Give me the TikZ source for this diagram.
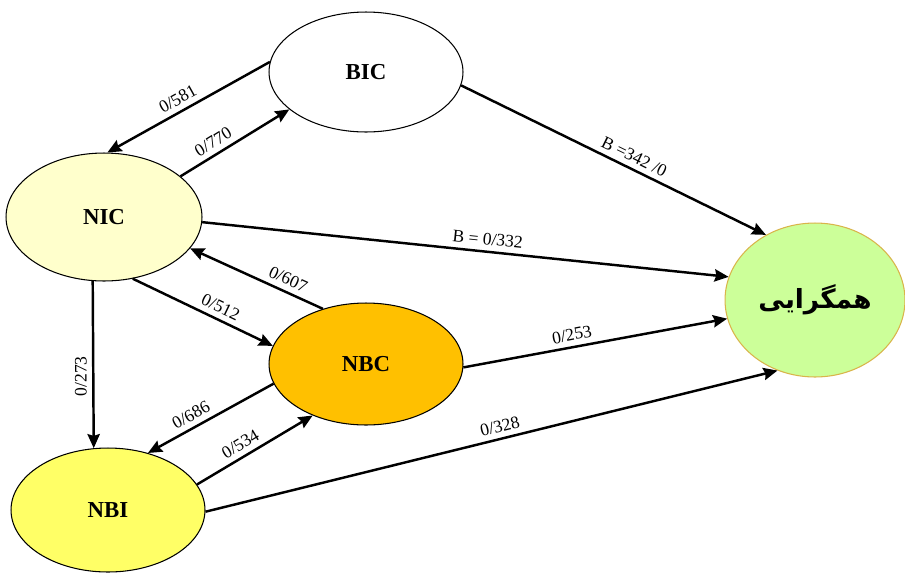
\documentclass[tikz,border=0pt]{standalone}
\usepackage{fontspec}
\setmainfont{Liberation Serif}
\newfontfamily\arabicfont[Script=Arabic]{DejaVu Sans}
\TeXXeTstate=1
\usetikzlibrary{shapes.geometric,arrows.meta}
\definecolor{nicfill}{HTML}{FFFFCC}
\definecolor{nbcfill}{HTML}{FFC000}
\definecolor{nbifill}{HTML}{FFFF66}
\definecolor{hamfill}{HTML}{CCFF99}
\definecolor{hamline}{HTML}{D9B44A}
\tikzset{state/.style={ellipse, draw, line width=0.6pt, inner sep=0pt, font=\fontsize{13}{15}\selectfont\bfseries},
         flow/.style={line width=1.4pt, -{Stealth[length=8pt,width=7pt,inset=1pt]}},
         weight/.style={sloped, above, inner sep=3pt, font=\fontsize{10}{12}\selectfont}}

\begin{document}
\begin{tikzpicture}[x=0.02cm, y=-0.02cm]
        \useasboundingbox (0,0) rectangle (905,572);
        % states
        \node[state, fill=white, minimum width=3.88cm, minimum height=2.4cm] (bic) at (366,72) {BIC};
        \node[state, fill=nicfill, minimum width=3.92cm, minimum height=2.56cm] (nic) at (104,217) {NIC};
        \node[state, fill=nbcfill, minimum width=3.88cm, minimum height=2.44cm] (nbc) at (366,364) {NBC};
        \node[state, fill=nbifill, minimum width=3.88cm, minimum height=2.48cm] (nbi) at (108,510) {NBI};
        \node[state, draw=hamline, fill=hamfill, minimum width=3.6cm, minimum height=3.08cm,
              font=\fontsize{15}{17}\selectfont\arabicfont\bfseries] (ham) at (815,300) {\beginR همگرایی\endR};
        %
        \draw[flow] (bic.174) -- node[weight, pos=0.53] {0/581} (nic.87);
        \draw[flow] (nic.28) -- node[weight, pos=0.36] {0/770} (bic.206);
        \draw[flow] (bic.-8) -- node[weight, pos=0.55] {B =342 /0} (ham.127);
        \draw[flow] (nic.-3.5) -- node[weight, pos=0.54] {B = 0/332} (ham.165);
        \draw[flow] (nbc.128) -- node[weight, pos=0.3] {0/607} (nic.-20);
        \draw[flow] (nic.-65) -- node[weight, pos=0.59] {0/512} (nbc.169);
        \draw[flow] (nic.-100) -- node[weight, sloped=false, rotate=90, anchor=south, pos=0.57] {0/273} (nbi.103);
        \draw[flow] (nbc.192) -- node[weight, pos=0.61] {0/686} (nbi.55);
        \draw[flow] (nbi.16) -- node[weight, pos=0.43] {0/534} (nbc.224);
        \draw[flow] (nbc.-2.4) -- node[weight, pos=0.42] {0/253} (ham.192);
        \draw[flow] (nbi.-1.8) -- node[weight, pos=0.52] {0/328} (ham.242);
\end{tikzpicture}
\end{document}
